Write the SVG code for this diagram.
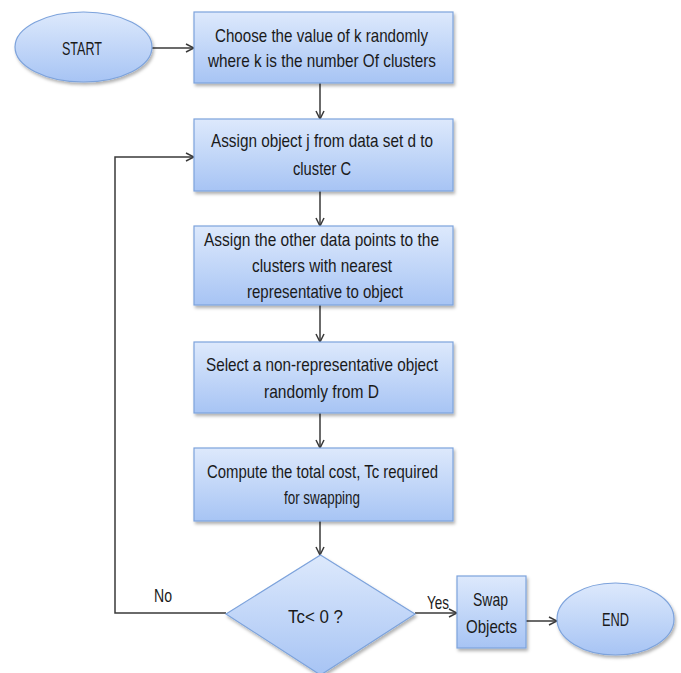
<svg xmlns="http://www.w3.org/2000/svg" width="681" height="673" viewBox="0 0 681 673">
  <defs>
    <linearGradient id="fillBlue" x1="0" y1="0" x2="0" y2="1">
      <stop offset="0" stop-color="#dde9fc"/>
      <stop offset="1" stop-color="#a7c4f4"/>
    </linearGradient>
    <filter id="shadow" x="-10%" y="-10%" width="125%" height="130%">
      <feDropShadow dx="1.5" dy="2.5" stdDeviation="1.5" flood-color="#000" flood-opacity="0.3"/>
    </filter>
    <marker id="arrow" viewBox="0 0 10 10" refX="9" refY="5" markerWidth="10" markerHeight="10" markerUnits="userSpaceOnUse" orient="auto">
      <path d="M1,1 L9,5 L1,9" fill="none" stroke="#3a3a3a" stroke-width="1.5"/>
    </marker>
  </defs>
  <style>
    .shape { fill: url(#fillBlue); stroke: #7da3dc; stroke-width: 1.2; filter: url(#shadow); }
    .label { font-family: "Liberation Sans", Arial, sans-serif; font-size: 18.5px; fill: #1a1a1a; }
    .edge { fill: none; stroke: #3a3a3a; stroke-width: 1.5; }
  </style>
  <rect width="681" height="673" fill="#ffffff"/>

  <!-- connectors -->
  <g id="connectors">
    <line class="edge" x1="152" y1="48" x2="194" y2="48" marker-end="url(#arrow)"/>
    <line class="edge" x1="320" y1="83" x2="320" y2="119" marker-end="url(#arrow)"/>
    <line class="edge" x1="320" y1="191" x2="320" y2="226" marker-end="url(#arrow)"/>
    <line class="edge" x1="320" y1="305" x2="320" y2="342" marker-end="url(#arrow)"/>
    <line class="edge" x1="320" y1="413" x2="320" y2="448" marker-end="url(#arrow)"/>
    <line class="edge" x1="320" y1="521" x2="320" y2="555" marker-end="url(#arrow)"/>
    <polyline class="edge" points="226,613 115,613 115,157 194,157" marker-end="url(#arrow)"/>
    <line class="edge" x1="415" y1="613" x2="457" y2="613" marker-end="url(#arrow)"/>
    <line class="edge" x1="526" y1="621" x2="557" y2="621" marker-end="url(#arrow)"/>
    <text class="label" x="154" y="602" textLength="18" lengthAdjust="spacingAndGlyphs">No</text>
    <text class="label" x="427" y="609" textLength="22" lengthAdjust="spacingAndGlyphs">Yes</text>
  </g>

  <g id="start">
    <ellipse class="shape" cx="83.5" cy="47" rx="68.5" ry="35"/>
    <text class="label" x="62" y="55" textLength="40" lengthAdjust="spacingAndGlyphs">START</text>
  </g>

  <g id="choose-k">
    <rect class="shape" x="194" y="12" width="259" height="71"/>
    <text class="label" x="215" y="42" textLength="213" lengthAdjust="spacingAndGlyphs">Choose the value of k randomly</text>
    <text class="label" x="208" y="67" textLength="228" lengthAdjust="spacingAndGlyphs">where k is the number Of clusters</text>
  </g>

  <g id="assign-object">
    <rect class="shape" x="194" y="119" width="259" height="72"/>
    <text class="label" x="211" y="147" textLength="222" lengthAdjust="spacingAndGlyphs">Assign object j from data set d to</text>
    <text class="label" x="293" y="175" textLength="58" lengthAdjust="spacingAndGlyphs">cluster C</text>
  </g>

  <g id="assign-points">
    <rect class="shape" x="194" y="226" width="259" height="79"/>
    <text class="label" x="204" y="246" textLength="235" lengthAdjust="spacingAndGlyphs">Assign the other data points to the</text>
    <text class="label" x="252" y="272" textLength="140" lengthAdjust="spacingAndGlyphs">clusters with nearest</text>
    <text class="label" x="247" y="298" textLength="156" lengthAdjust="spacingAndGlyphs">representative to object</text>
  </g>

  <g id="select-object">
    <rect class="shape" x="194" y="342" width="259" height="71"/>
    <text class="label" x="206" y="371" textLength="232" lengthAdjust="spacingAndGlyphs">Select a non-representative object</text>
    <text class="label" x="264" y="398" textLength="115" lengthAdjust="spacingAndGlyphs">randomly from D</text>
  </g>

  <g id="compute-cost">
    <rect class="shape" x="194" y="448" width="259" height="73"/>
    <text class="label" x="207" y="478" textLength="231" lengthAdjust="spacingAndGlyphs">Compute the total cost, Tc required</text>
    <text class="label" x="284" y="504" textLength="76" lengthAdjust="spacingAndGlyphs">for swapping</text>
  </g>

  <g id="decision">
    <polygon class="shape" points="320.5,555 415,614 320.5,675 226,614"/>
    <text class="label" x="288" y="623" textLength="55" lengthAdjust="spacingAndGlyphs">Tc&lt; 0 ?</text>
  </g>

  <g id="swap">
    <rect class="shape" x="457" y="576" width="69" height="72"/>
    <text class="label" x="473" y="606" textLength="35" lengthAdjust="spacingAndGlyphs">Swap</text>
    <text class="label" x="466" y="633" textLength="51" lengthAdjust="spacingAndGlyphs">Objects</text>
  </g>

  <g id="end">
    <ellipse class="shape" cx="615.5" cy="619" rx="58.5" ry="36"/>
    <text class="label" x="602" y="626" textLength="27" lengthAdjust="spacingAndGlyphs">END</text>
  </g>
</svg>
